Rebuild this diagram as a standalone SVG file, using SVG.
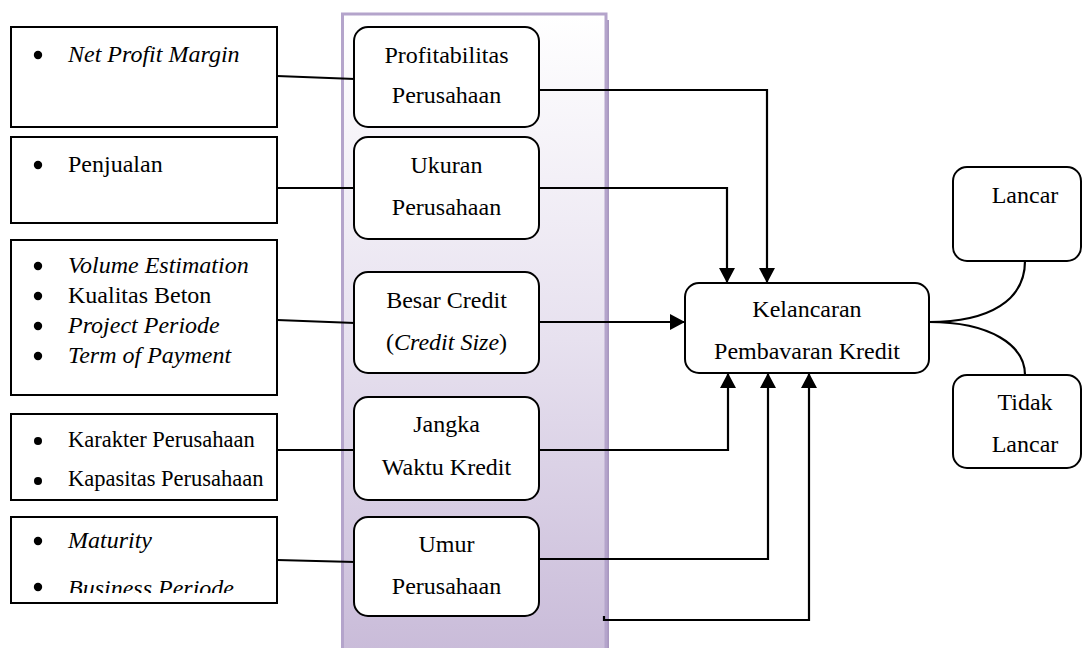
<svg xmlns="http://www.w3.org/2000/svg" width="1083" height="648" viewBox="0 0 1083 648">
<defs>
  <linearGradient id="panelGrad" x1="0" y1="0" x2="0" y2="1">
    <stop offset="0" stop-color="#ffffff"/>
    <stop offset="0.5" stop-color="#e7e1ef"/>
    <stop offset="1" stop-color="#c8bad8"/>
  </linearGradient>
  <marker id="arrow" viewBox="0 0 15 16" refX="15" refY="8" markerWidth="15" markerHeight="16" markerUnits="userSpaceOnUse" orient="auto">
    <path d="M0,0 L15,8 L0,16 Z" fill="#000"/>
  </marker>
  <clipPath id="clipBox5">
    <rect x="11" y="517" width="266" height="76"/>
  </clipPath>
</defs>
<style>
  .box { fill: #fff; stroke: #000; stroke-width: 2; }
  .rbox { fill: #fff; stroke: #000; stroke-width: 2; }
  .s { font-size: 22.5px; }
  .i { font-style: italic; }
  .c { text-anchor: middle; }
  .dot { fill: #000; }
  .conn { fill: none; stroke: #000; stroke-width: 2.2; }
  .arr { marker-end: url(#arrow); }
</style>
<rect width="1083" height="648" fill="#fff"/>

<!-- purple panel -->
<g id="panel">
  <rect x="606" y="20" width="3" height="640" fill="#a897bf"/>
  <rect x="342.5" y="14" width="263.5" height="650" fill="url(#panelGrad)" stroke="#b4a4cb" stroke-width="3"/>
</g>

<!-- connectors -->
<g id="connectors">
  <polyline class="conn" points="277,76 355,79"/>
  <polyline class="conn" points="277,188 355,188"/>
  <polyline class="conn" points="277,320 355,323"/>
  <polyline class="conn" points="277,450 355,450"/>
  <polyline class="conn" points="277,560 355,562"/>

  <polyline class="conn arr" points="539,90 767,90 767,283"/>
  <polyline class="conn arr" points="539,188 727,188 727,283"/>
  <polyline class="conn arr" points="539,322 685,322"/>
  <polyline class="conn arr" points="539,450 728,450 728,373"/>
  <polyline class="conn arr" points="539,559 768,559 768,373"/>
  <polyline class="conn arr" points="604,616 604,620 809,620 809,373"/>

  <path class="conn" d="M929,322 C990,322 1025,300 1025,261"/>
  <path class="conn" d="M929,322 C990,322 1025,345 1025,375"/>
</g>

<g font-family="Liberation Serif, DejaVu Serif, serif" font-size="24" fill="#000">
<!-- left boxes -->
<g id="npm">
  <rect class="box" x="11" y="27" width="266" height="100"/>
  <circle class="dot" cx="38" cy="55" r="4.2"/>
  <text class="i" x="68" y="62">Net Profit Margin</text>
</g>
<g id="penjualan">
  <rect class="box" x="11" y="137" width="266" height="86"/>
  <circle class="dot" cx="38" cy="165" r="4.2"/>
  <text x="68" y="172">Penjualan</text>
</g>
<g id="volume">
  <rect class="box" x="11" y="240" width="266" height="155"/>
  <circle class="dot" cx="38" cy="266" r="4.2"/>
  <text class="i" x="68" y="273">Volume Estimation</text>
  <circle class="dot" cx="38" cy="296" r="4.2"/>
  <text x="68" y="303">Kualitas Beton</text>
  <circle class="dot" cx="38" cy="326" r="4.2"/>
  <text class="i" x="68" y="333">Project Periode</text>
  <circle class="dot" cx="38" cy="356" r="4.2"/>
  <text class="i" x="68" y="363">Term of Payment</text>
</g>
<g id="karakter">
  <rect class="box" x="11" y="414" width="266" height="86"/>
  <circle class="dot" cx="38" cy="441" r="4"/>
  <text class="s" x="68" y="447">Karakter Perusahaan</text>
  <circle class="dot" cx="38" cy="481" r="4"/>
  <text class="s" x="68" y="486">Kapasitas Perusahaan</text>
</g>
<g id="maturity">
  <rect class="box" x="11" y="517" width="266" height="86"/>
  <circle class="dot" cx="38" cy="541" r="4.2"/>
  <text class="i" x="68" y="548">Maturity</text>
  <circle class="dot" cx="38" cy="587" r="4.2"/>
  <text class="i" x="68" y="596" clip-path="url(#clipBox5)">Business Periode</text>
</g>

<!-- middle boxes -->
<g id="profitabilitas">
  <rect class="rbox" x="354" y="27" width="185" height="100" rx="14"/>
  <text class="c" x="446.5" y="63">Profitabilitas</text>
  <text class="c" x="446.5" y="103">Perusahaan</text>
</g>
<g id="ukuran">
  <rect class="rbox" x="354" y="137" width="185" height="102" rx="14"/>
  <text class="c" x="446.5" y="173">Ukuran</text>
  <text class="c" x="446.5" y="215">Perusahaan</text>
</g>
<g id="besar">
  <rect class="rbox" x="354" y="272" width="185" height="101" rx="14"/>
  <text class="c" x="446.5" y="308">Besar Credit</text>
  <text class="c" x="446.5" y="350">(<tspan class="i">Credit Size</tspan>)</text>
</g>
<g id="jangka">
  <rect class="rbox" x="354" y="397" width="185" height="103" rx="14"/>
  <text class="c" x="446.5" y="432">Jangka</text>
  <text class="c" x="446.5" y="475">Waktu Kredit</text>
</g>
<g id="umur">
  <rect class="rbox" x="354" y="517" width="185" height="99" rx="14"/>
  <text class="c" x="446.5" y="552">Umur</text>
  <text class="c" x="446.5" y="594">Perusahaan</text>
</g>

<!-- target -->
<g id="kelancaran">
  <rect class="rbox" x="685" y="283" width="244" height="90" rx="14"/>
  <text class="c" x="807" y="317">Kelancaran</text>
  <text class="c" x="807" y="359">Pembavaran Kredit</text>
</g>

<!-- outcomes -->
<g id="lancar">
  <rect class="rbox" x="953" y="167" width="128" height="94" rx="14"/>
  <text class="c" x="1025" y="203">Lancar</text>
</g>
<g id="tidak">
  <rect class="rbox" x="953" y="375" width="128" height="93" rx="14"/>
  <text class="c" x="1025" y="410">Tidak</text>
  <text class="c" x="1025" y="452">Lancar</text>
</g>
</g>
</svg>
